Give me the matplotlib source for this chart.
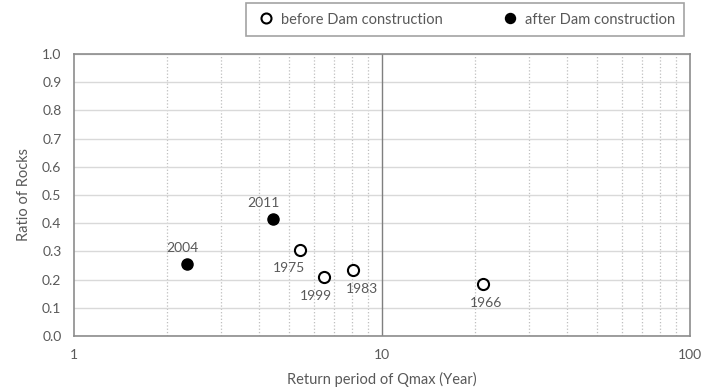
import matplotlib
matplotlib.use('Agg')
from matplotlib import pyplot as plt
from matplotlib.ticker import FixedLocator, NullFormatter

plt.rcParams['font.family'] = ['Lato', 'DejaVu Sans']

before_years = ['1975', '1999', '1983', '1966']
before_period = [5.42, 6.50, 8.07, 21.3]
before_ratio = [0.305, 0.209, 0.234, 0.184]

after_years = ['2004', '2011']
after_period = [2.33, 4.42]
after_ratio = [0.255, 0.415]

# small horizontal nudges of the year labels, in points
before_dx = [-8, -6, 6, 2]
after_dx = [-3, -7]

text_color = '#595959'

figure = plt.figure(figsize=(7.04, 3.88), dpi=100)
ax = figure.add_axes([0.105, 0.134, 0.875, 0.727])

ax.set_xscale('log')
ax.set_xlim(1, 100)
ax.set_ylim(0, 1.0)
ax.set_yticks([i / 10 for i in range(11)])
ax.set_yticklabels(['%.1f' % (i / 10) for i in range(11)])
ax.set_xticks([1, 10, 100])
ax.set_xticklabels(['1', '10', '100'])
ax.xaxis.set_minor_locator(FixedLocator([m * 10 ** d for d in range(2) for m in range(2, 10)]))
ax.xaxis.set_minor_formatter(NullFormatter())

ax.grid(axis='y', which='major', color='#d9d9d9', linewidth=1)
ax.grid(axis='x', which='minor', color='#bfbfbf', linestyle=':', linewidth=0.9)
ax.axvline(10, color='#7f7f7f', linewidth=1, zorder=1)
ax.set_axisbelow(True)

for s in ax.spines.values():
    s.set_color('#8c8c8c')
    s.set_linewidth(1.2)
ax.tick_params(which='both', length=0, colors=text_color, labelsize=10, pad=9)

ax.plot(before_period, before_ratio, 'o', markersize=8, markerfacecolor='white',
        markeredgecolor='black', markeredgewidth=1.5, linestyle='none',
        label='before Dam construction', zorder=3)
ax.plot(after_period, after_ratio, 'o', markersize=8, color='black', linestyle='none',
        label='after Dam construction', zorder=3)

for yr, x, y, dx in zip(before_years, before_period, before_ratio, before_dx):
    ax.annotate(yr, (x, y), xytext=(dx, -9), textcoords='offset points',
                ha='center', va='top', fontsize=10, color=text_color)
for yr, x, y, dx in zip(after_years, after_period, after_ratio, after_dx):
    ax.annotate(yr, (x, y), xytext=(dx, 7), textcoords='offset points',
                ha='center', va='bottom', fontsize=10, color=text_color)

ax.set_ylabel('Ratio of Rocks', color=text_color, fontsize=10.5, labelpad=8)
ax.set_xlabel('Return period of Qmax (Year)', color=text_color, fontsize=10.5, labelpad=8)

leg = ax.legend(loc='center', bbox_to_anchor=(0.635, 1.122), ncol=2, frameon=True,
                fancybox=False, fontsize=10.5, handletextpad=0.3, columnspacing=3.8,
                borderpad=0.65, borderaxespad=0, handlelength=1.5, markerscale=0.9)
leg.get_frame().set_edgecolor('#8c8c8c')
leg.get_frame().set_linewidth(1.2)
for t in leg.get_texts():
    t.set_color(text_color)

plt.savefig('out.png', dpi=100)
